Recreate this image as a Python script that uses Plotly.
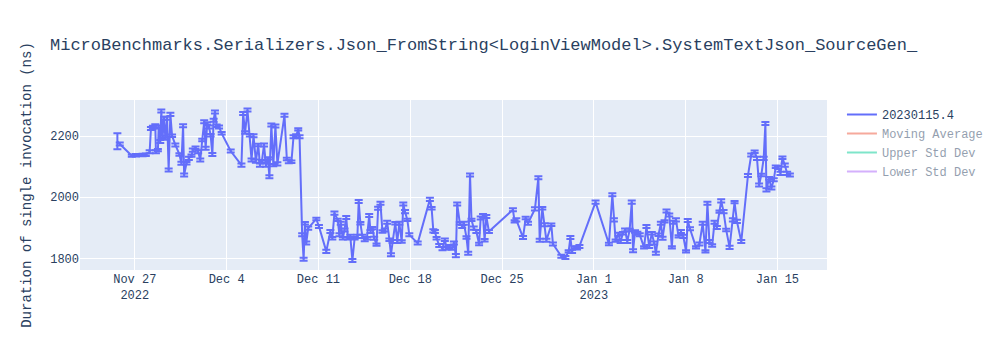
import pandas as pd
import plotly.graph_objects as go

title_text = "MicroBenchmarks.Serializers.Json_FromString<LoginViewModel>.SystemTextJson_SourceGen_"
y_title = "Duration of single invocation (ns)"
series_name = "20230115.4"
start_day = "2022-11-27"

# days after Nov 27 2022
day_offsets = [
    -1.33, -1.15, -0.23, 0.08, 0.59, 0.84, 1.13, 1.23, 1.38, 1.56, 1.61, 1.76, 1.82, 1.94, 2.02, 2.12,
    2.23, 2.33, 2.46, 2.58, 2.71, 2.84, 3.09, 3.40, 3.55, 3.68, 3.76, 3.94, 4.12, 4.32, 4.42, 4.63,
    4.83, 4.99, 5.14, 5.29, 5.40, 5.52, 5.65, 5.78, 5.91, 6.01, 6.11, 6.24, 6.42, 6.62, 7.31, 8.13,
    8.26, 8.41, 8.59, 8.77, 8.90, 9.05, 9.23, 9.41, 9.54, 9.69, 9.85, 10.00, 10.15, 10.26, 10.41, 10.56,
    10.72, 10.87, 11.41, 11.59, 11.74, 11.94, 12.10, 12.30, 12.46, 12.56, 12.76, 12.87, 12.97, 13.07, 13.22, 13.84,
    14.04, 14.60, 14.91, 15.06, 15.22, 15.47, 15.60, 15.70, 15.86, 15.99, 16.12, 16.25, 16.43, 16.59, 16.76, 16.97,
    17.07, 17.20, 17.35, 17.53, 17.70, 17.87, 17.97, 18.12, 18.25, 18.43, 18.55, 18.73, 18.88, 19.06, 19.24, 19.41,
    19.53, 19.66, 19.86, 20.01, 20.17, 20.35, 20.47, 20.60, 20.78, 20.93, 21.57, 22.50, 22.63, 22.76, 22.88, 23.01,
    23.21, 23.46, 23.64, 23.77, 23.97, 24.15, 24.33, 24.48, 24.58, 24.78, 24.96, 25.09, 25.29, 25.42, 25.56, 25.67,
    25.84, 26.04, 26.25, 26.37, 26.55, 26.67, 26.80, 27.00, 28.83, 28.96, 29.09, 29.60, 29.80, 29.98, 30.51, 30.77,
    30.87, 31.07, 31.25, 31.38, 31.76, 31.88, 32.52, 32.83, 33.08, 33.21, 33.34, 33.54, 33.72, 33.90, 35.13, 36.15,
    36.41, 36.53, 36.66, 36.87, 37.04, 37.22, 37.38, 37.55, 37.73, 37.89, 37.99, 38.14, 38.32, 38.50, 38.83, 39.01,
    39.22, 39.42, 39.60, 39.73, 39.93, 40.11, 40.24, 40.39, 40.54, 40.75, 40.95, 41.06, 41.26, 41.46, 41.64, 41.82,
    42.03, 42.16, 42.33, 42.79, 43.05, 43.30, 43.51, 43.66, 43.81, 44.02, 44.20, 44.38, 44.58, 44.71, 44.89, 45.09,
    45.35, 45.60, 45.73, 45.91, 46.24, 46.75, 47.00, 47.26, 47.44, 47.60, 47.77, 47.95, 48.08, 48.16, 48.36, 48.54,
    48.72, 48.87, 49.05, 49.23, 49.38, 49.56, 49.74, 49.95,
]

durations = [
    2183, 2174, 2136, 2137, 2138, 2139, 2149, 2225, 2230, 2234, 2149, 2154, 2230, 2182, 2282, 2198,
    2258, 2192, 2258, 2089, 2271, 2201, 2171, 2140, 2111, 2234, 2073, 2111, 2127, 2136, 2154, 2162,
    2149, 2122, 2187, 2247, 2160, 2241, 2230, 2203, 2140, 2252, 2279, 2234, 2230, 2209, 2151, 2105,
    2274, 2212, 2285, 2203, 2122, 2201, 2118, 2171, 2105, 2118, 2171, 2105, 2127, 2067, 2236, 2105,
    2233, 2109, 2268, 2125, 2116, 2116, 2198, 2201, 2222, 2198, 1877, 1797, 1915, 1850, 1899, 1929,
    1904, 1823, 1888, 1866, 1948, 1926, 1877, 1915, 1866, 1893, 1934, 1866, 1872, 1793, 1866, 1872,
    1986, 1915, 1872, 1861, 1866, 1940, 1888, 1899, 1866, 1845, 1964, 1980, 1888, 1893, 1918, 1861,
    1812, 1855, 1915, 1855, 1915, 1855, 1978, 1953, 1926, 1877, 1850, 1993, 1964, 1890, 1888, 1866,
    1842, 1832, 1861, 1834, 1839, 1832, 1850, 1809, 1978, 1915, 1904, 1915, 1868, 1817, 2073, 1926,
    1899, 1888, 1847, 1932, 1940, 1859, 1937, 1888, 1959, 1921, 1926, 1868, 1932, 1915, 1962, 2064,
    1859, 1964, 1910, 1859, 1910, 1847, 1807, 1803, 1823, 1868, 1823, 1836, 1834, 1839, 1984, 1847,
    2008, 1926, 1858, 1879, 1855, 1882, 1893, 1855, 1893, 1984, 1825, 1888, 1882, 1877, 1836, 1904,
    1839, 1882, 1850, 1817, 1877, 1915, 1866, 1921, 1955, 1942, 1836, 1918, 1926, 1872, 1888, 1872,
    1823, 1924, 1897, 1836, 1847, 1915, 1823, 1980, 1855, 1842, 1918, 1901, 1953, 1988, 1953, 1893,
    1836, 1926, 1984, 1921, 1855, 2071, 2138, 2149, 2127, 2040, 2073, 2127, 2241, 2024, 2062, 2030,
    2057, 2100, 2097, 2078, 2129, 2105, 2078, 2073,
]

errors = [
    26, 5, 4, 4, 4, 4, 5, 5, 4, 5, 5, 4, 5, 5, 5, 4,
    5, 4, 5, 5, 5, 4, 5, 4, 5, 5, 5, 4, 5, 4, 5, 4,
    5, 5, 4, 5, 5, 4, 5, 4, 5, 5, 5, 4, 5, 4, 5, 5,
    5, 4, 5, 4, 5, 5, 5, 4, 5, 4, 5, 5, 4, 5, 5, 4,
    5, 5, 5, 4, 5, 4, 5, 5, 4, 5, 5, 5, 4, 5, 5, 4,
    5, 5, 5, 4, 5, 4, 5, 5, 4, 5, 5, 4, 5, 5, 4, 5,
    5, 4, 5, 5, 4, 5, 5, 4, 5, 4, 5, 5, 4, 5, 5, 4,
    5, 5, 4, 5, 5, 4, 5, 5, 4, 5, 5, 5, 4, 5, 5, 4,
    5, 5, 4, 5, 5, 4, 5, 5, 5, 4, 5, 5, 4, 5, 5, 4,
    5, 5, 4, 5, 5, 4, 5, 5, 5, 4, 5, 5, 4, 5, 5, 5,
    5, 4, 5, 5, 4, 5, 5, 5, 4, 5, 5, 4, 5, 5, 5, 4,
    5, 5, 4, 5, 5, 4, 5, 5, 4, 5, 5, 4, 5, 5, 4, 5,
    5, 4, 5, 5, 4, 5, 5, 4, 5, 5, 4, 5, 5, 4, 5, 5,
    4, 5, 5, 4, 5, 5, 4, 5, 5, 4, 5, 5, 4, 5, 5, 4,
    5, 5, 4, 5, 5, 5, 5, 4, 5, 5, 4, 5, 5, 5, 4, 5,
    5, 4, 5, 5, 4, 5, 5, 5,
]

legend_names = ["Moving Average", "Upper Std Dev", "Lower Std Dev"]

dates = pd.Timestamp(start_day) + pd.to_timedelta(day_offsets, unit="D")
s = pd.Series(durations, index=dates)
mov = s.rolling(10, min_periods=1).mean()
sd = s.rolling(10, min_periods=1).std().fillna(0)

FONT = "Courier New, Liberation Mono, monospace"

fig = go.Figure()
fig.add_trace(go.Scatter(
    x=dates, y=durations, mode="lines", name=series_name,
    line=dict(color="#636efa", width=2),
    error_y=dict(type="data", array=errors, visible=True, color="#636efa", thickness=2, width=4),
))
fig.add_trace(go.Scatter(x=dates, y=mov, mode="lines", name=legend_names[0],
                         line=dict(color="#EF553B"), visible="legendonly"))
fig.add_trace(go.Scatter(x=dates, y=mov + sd, mode="lines", name=legend_names[1],
                         line=dict(color="#00cc96"), visible="legendonly"))
fig.add_trace(go.Scatter(x=dates, y=mov - sd, mode="lines", name=legend_names[2],
                         line=dict(color="#ab63fa"), visible="legendonly"))

fig.update_layout(
    template="plotly",
    width=1000, height=350,
    font=dict(family=FONT, size=12),
    title=dict(text=title_text, font=dict(family=FONT, size=17)),
    yaxis=dict(title=dict(text=y_title), range=[1762, 2318]),
    xaxis=dict(range=["2022-11-22 19:40", "2023-01-18 18:40"]),
    margin=dict(l=80, r=80, t=100, b=80),
)

fig.write_html("out.html")
